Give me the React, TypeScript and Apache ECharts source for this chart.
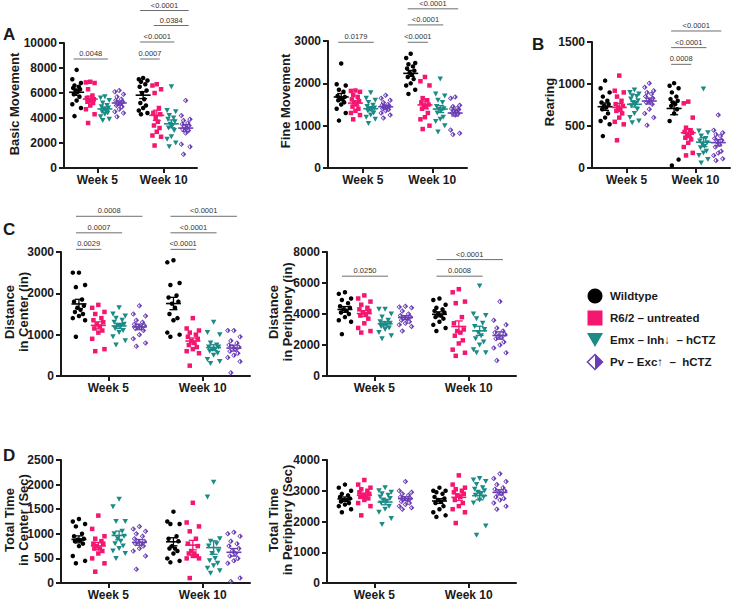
import React, { useEffect, useRef } from "react";
import * as echarts from "echarts";

// ---------- categories ----------
const weeks = ["Week 5", "Week 10"];
const groupNames = ["Wildtype", "R6/2 – untreated", "Emx – Inh↓  – hCTZ", "Pv – Exc↑  –  hCTZ"];
const groupColors = ["#000000", "#f5166f", "#1b8b86", "#6a3db4"];

// ---------- values: [Wildtype, R6/2, Emx, Pv] per week ----------
const basicWeek5 = [
  [7850, 7100, 6800, 6600, 6500, 6400, 6300, 6200, 6100, 5900, 5700, 5400, 5100, 4800, 4150],
  [6900, 6850, 6800, 6300, 5800, 5600, 5500, 5450, 5400, 5300, 5200, 5000, 4700, 4300, 3600],
  [5700, 5600, 5400, 5200, 5000, 4900, 4800, 4700, 4600, 4500, 4400, 4300, 4100, 3900, 3800],
  [6200, 6100, 5900, 5700, 5500, 5400, 5300, 5200, 5100, 5000, 4900, 4700, 4500, 4400, 4100],
];
const basicWeek10 = [
  [7200, 7100, 7000, 6900, 6700, 6500, 6200, 6000, 5500, 5200, 5000, 4800, 4600, 4400, 4300],
  [6700, 6600, 6300, 6000, 4800, 4400, 4300, 4000, 3700, 3400, 3200, 2900, 2600, 2500, 1800],
  [6500, 4600, 4500, 4200, 4000, 3900, 3700, 3500, 3400, 3200, 3000, 2500, 2300, 2000, 1700],
  [5400, 4200, 3900, 3800, 3600, 3500, 3400, 3300, 3200, 3100, 3000, 2800, 1900, 1700, 1100],
];
const fineWeek5 = [
  [2470, 1980, 1950, 1850, 1800, 1700, 1680, 1650, 1620, 1600, 1550, 1500, 1400, 1300, 1120],
  [1830, 1820, 1800, 1720, 1680, 1620, 1580, 1550, 1500, 1450, 1400, 1350, 1300, 1250, 1150],
  [1780, 1650, 1600, 1550, 1480, 1450, 1420, 1400, 1380, 1350, 1300, 1250, 1200, 1150, 1050],
  [1720, 1650, 1600, 1550, 1500, 1480, 1460, 1450, 1420, 1400, 1380, 1350, 1300, 1250, 1180],
];
const fineWeek10 = [
  [2700, 2600, 2480, 2450, 2400, 2350, 2300, 2250, 2200, 2150, 2100, 2000, 1950, 1850, 1750],
  [2150, 2050, 1950, 1650, 1600, 1550, 1500, 1480, 1450, 1400, 1300, 1200, 1150, 1000, 920],
  [2100, 1750, 1700, 1600, 1550, 1450, 1400, 1380, 1350, 1300, 1200, 1150, 1100, 1000, 850],
  [1680, 1650, 1480, 1450, 1420, 1400, 1380, 1350, 1330, 1300, 1280, 1250, 900, 820, 790],
];
const rearingWeek5 = [
  [1040, 950, 900, 850, 800, 780, 760, 740, 720, 700, 650, 600, 560, 520, 380],
  [1100, 920, 900, 850, 800, 760, 740, 720, 700, 680, 650, 600, 550, 520, 330],
  [930, 900, 880, 860, 850, 820, 800, 780, 760, 740, 700, 650, 600, 560, 540],
  [1010, 960, 920, 900, 880, 850, 830, 810, 800, 780, 760, 700, 650, 600, 510],
];
const rearingWeek10 = [
  [1010, 980, 950, 900, 850, 820, 800, 780, 760, 740, 700, 650, 560, 100, 30],
  [790, 770, 600, 480, 450, 430, 420, 400, 380, 360, 340, 300, 250, 180, 150],
  [940, 440, 420, 380, 350, 320, 300, 280, 260, 240, 200, 180, 150, 100, 60],
  [630, 450, 420, 400, 380, 350, 330, 310, 280, 250, 200, 180, 150, 110, 90],
];
const centerDistWeek5 = [
  [2500, 2500, 2200, 2150, 1850, 1800, 1700, 1650, 1600, 1550, 1500, 1450, 1400, 1350, 950],
  [1720, 1650, 1550, 1500, 1400, 1350, 1300, 1250, 1200, 1150, 1100, 1050, 900, 650, 600],
  [1650, 1500, 1450, 1400, 1350, 1300, 1250, 1220, 1200, 1150, 1100, 1050, 950, 850, 750],
  [1700, 1500, 1450, 1350, 1300, 1250, 1220, 1200, 1180, 1150, 1100, 1000, 900, 800, 720],
];
const centerDistWeek10 = [
  [2800, 2750, 2250, 2200, 1950, 1900, 1800, 1750, 1650, 1500, 1400, 1350, 1050, 1000, 950],
  [1400, 1150, 1100, 1050, 1000, 950, 900, 850, 800, 750, 700, 650, 600, 550, 250],
  [1300, 1050, 1000, 800, 750, 700, 700, 650, 650, 600, 550, 500, 400, 350, 300],
  [1100, 1100, 950, 850, 800, 750, 700, 700, 650, 600, 550, 500, 450, 350, 80],
];
const periDistWeek5 = [
  [5400, 5300, 5000, 4900, 4700, 4500, 4400, 4300, 4200, 4100, 4000, 3800, 3600, 3500, 2700],
  [5200, 5000, 4800, 4600, 4400, 4300, 4200, 4100, 4000, 3900, 3700, 3400, 3100, 2900, 2800],
  [4300, 4300, 4000, 3800, 3600, 3500, 3400, 3300, 3300, 3200, 3100, 3000, 2800, 2600, 2400],
  [4500, 4450, 4400, 4200, 4000, 3900, 3800, 3750, 3700, 3600, 3500, 3400, 3300, 3200, 2900],
];
const periDistWeek10 = [
  [5000, 4900, 4600, 4400, 4300, 4200, 4100, 4000, 3900, 3800, 3700, 3500, 3300, 3100, 2900],
  [5600, 5400, 4800, 4700, 3800, 3400, 3000, 2900, 2800, 2600, 2300, 2100, 1700, 1500, 1300],
  [5800, 4000, 3900, 3700, 3400, 3200, 3000, 2800, 2600, 2400, 2200, 2000, 1700, 1500, 1500],
  [4800, 3600, 3300, 3100, 2900, 2800, 2700, 2600, 2500, 2400, 2200, 2000, 1800, 1500, 1000],
];
const centerTimeWeek5 = [
  [1300, 1250, 1200, 1150, 1000, 950, 900, 880, 870, 850, 800, 750, 550, 450, 400],
  [1370, 1100, 950, 900, 850, 800, 800, 750, 700, 700, 650, 600, 500, 400, 230],
  [1700, 1550, 1250, 1250, 1050, 1000, 950, 900, 850, 800, 750, 700, 650, 600, 500],
  [1150, 1100, 1050, 1000, 950, 900, 850, 850, 800, 800, 750, 700, 650, 550, 280],
];
const centerTimeWeek10 = [
  [1450, 1250, 1200, 1200, 950, 900, 850, 750, 700, 700, 650, 600, 500, 450, 420],
  [1630, 1230, 1150, 1050, 900, 800, 750, 650, 600, 600, 550, 550, 500, 500, 100],
  [2050, 1750, 900, 850, 800, 750, 650, 600, 500, 450, 400, 350, 300, 250, 200],
  [1030, 1000, 950, 850, 800, 750, 700, 650, 600, 550, 500, 450, 400, 100, 30],
];
const periTimeWeek5 = [
  [3200, 3100, 3000, 2900, 2850, 2800, 2750, 2700, 2700, 2650, 2600, 2550, 2500, 2400, 2300],
  [3350, 3200, 3100, 3050, 3000, 2950, 2900, 2850, 2850, 2800, 2750, 2700, 2600, 2500, 2200],
  [3100, 3000, 2950, 2900, 2850, 2800, 2750, 2700, 2650, 2600, 2500, 2400, 2300, 2100, 1900],
  [3300, 3000, 2950, 2900, 2850, 2800, 2750, 2750, 2700, 2650, 2600, 2550, 2500, 2450, 2400],
];
const periTimeWeek10 = [
  [3100, 3000, 3000, 2950, 2900, 2800, 2750, 2700, 2650, 2600, 2500, 2400, 2300, 2200, 2150],
  [3500, 3200, 3100, 3050, 3000, 2950, 2900, 2850, 2800, 2700, 2600, 2500, 2400, 2300, 1950],
  [3400, 3350, 3300, 3200, 3100, 3050, 3000, 2950, 2900, 2850, 2800, 2700, 2600, 1850, 1550],
  [3550, 3400, 3300, 3200, 3100, 3050, 3000, 2950, 2900, 2800, 2750, 2700, 2600, 2500, 2400],
];

// ---------- significance brackets (week index, from group, to group, height, p) ----------
type Bracket = { w: number; a: number; b: number; y: number; p: string };
const basicBrackets: Bracket[] = [
  { w: 0, a: 0, b: 2, y: 8720, p: "0.0048" },
  { w: 1, a: 0, b: 1, y: 8720, p: "0.0007" },
  { w: 1, a: 0, b: 2, y: 10080, p: "<0.0001" },
  { w: 1, a: 1, b: 3, y: 11400, p: "0.0384" },
  { w: 1, a: 0, b: 3, y: 12600, p: "<0.0001" },
];
const fineBrackets: Bracket[] = [
  { w: 0, a: 0, b: 2, y: 2970, p: "0.0179" },
  { w: 1, a: 0, b: 1, y: 2970, p: "<0.0001" },
  { w: 1, a: 0, b: 2, y: 3380, p: "<0.0001" },
  { w: 1, a: 0, b: 3, y: 3760, p: "<0.0001" },
];
const rearingBrackets: Bracket[] = [
  { w: 1, a: 0, b: 1, y: 1234, p: "0.0008" },
  { w: 1, a: 0, b: 2, y: 1433, p: "<0.0001" },
  { w: 1, a: 0, b: 3, y: 1631, p: "<0.0001" },
];
const centerDistBrackets: Bracket[] = [
  { w: 0, a: 0, b: 1, y: 3064, p: "0.0029" },
  { w: 0, a: 0, b: 2, y: 3464, p: "0.0007" },
  { w: 0, a: 0, b: 3, y: 3864, p: "0.0008" },
  { w: 1, a: 0, b: 1, y: 3064, p: "<0.0001" },
  { w: 1, a: 0, b: 2, y: 3464, p: "<0.0001" },
  { w: 1, a: 0, b: 3, y: 3864, p: "<0.0001" },
];
const periDistBrackets: Bracket[] = [
  { w: 0, a: 0, b: 2, y: 6440, p: "0.0250" },
  { w: 1, a: 0, b: 2, y: 6440, p: "0.0008" },
  { w: 1, a: 0, b: 3, y: 7510, p: "<0.0001" },
];

// ---------- layout ----------
const FONT = "'Liberation Sans', Arial, Helvetica, sans-serif";
const INK = "#1a1a1a";
const weekPos = [1, 3];
const groupOffsets = [-0.62, -0.21, 0.23, 0.66];
const jitterPattern = [0, -1, 1, -0.5, 0.5, -0.8, 0.8, -0.25, 0.25, -0.65, 0.65];
const JITTER = 0.13;

type Panel = {
  left: number; top: number; width: number; height: number;
  max: number; interval: number;
  wk5: number[][]; wk10: number[][]; brackets: Bracket[];
};
const panels: Panel[] = [
  { left: 64, top: 43, width: 133, height: 125, max: 10000, interval: 2000, wk5: basicWeek5, wk10: basicWeek10, brackets: basicBrackets },
  { left: 328, top: 41, width: 139, height: 127, max: 3000, interval: 1000, wk5: fineWeek5, wk10: fineWeek10, brackets: fineBrackets },
  { left: 592, top: 42, width: 138, height: 126, max: 1500, interval: 500, wk5: rearingWeek5, wk10: rearingWeek10, brackets: rearingBrackets },
  { left: 61, top: 252, width: 189, height: 124, max: 3000, interval: 1000, wk5: centerDistWeek5, wk10: centerDistWeek10, brackets: centerDistBrackets },
  { left: 327, top: 252, width: 189, height: 124, max: 8000, interval: 2000, wk5: periDistWeek5, wk10: periDistWeek10, brackets: periDistBrackets },
  { left: 61, top: 460, width: 189, height: 124, max: 2500, interval: 500, wk5: centerTimeWeek5, wk10: centerTimeWeek10, brackets: [] },
  { left: 327, top: 460, width: 189, height: 124, max: 4000, interval: 1000, wk5: periTimeWeek5, wk10: periTimeWeek10, brackets: [] },
];

const TRI_DOWN = "path://M0,0 L10,0 L5,9 Z";
const HALF_DIAMOND = "path://M5,0 L10,5 L5,10 Z M5,0 L0,5 L5,10 L5,8 L2,5 L5,2 Z";
const groupSymbols = ["circle", "rect", TRI_DOWN, HALF_DIAMOND];
const groupSizes: any[] = [4.5, 4.5, [5.5, 5], 5.5];

function mean(a: number[]) { return a.reduce((s, v) => s + v, 0) / a.length; }
function sem(a: number[]) {
  const m = mean(a);
  const v = a.reduce((s, x) => s + (x - m) * (x - m), 0) / (a.length - 1);
  return Math.sqrt(v) / Math.sqrt(a.length);
}

function buildOption() {
  const grid: any[] = [];
  const xAxis: any[] = [];
  const yAxis: any[] = [];
  const series: any[] = [];

  panels.forEach((p, i) => {
    grid.push({ left: p.left, top: p.top, width: p.width, height: p.height });
    xAxis.push({
      type: "value", gridIndex: i, min: 0, max: 4,
      axisLine: { show: true, onZero: false, lineStyle: { color: INK, width: 2 } },
      axisTick: { show: true, customValues: weekPos, length: 5, lineStyle: { color: INK, width: 2 } },
      axisLabel: {
        customValues: weekPos, margin: 6,
        formatter: (v: number) => (Math.abs(v - weekPos[0]) < 0.01 ? weeks[0] : weeks[1]),
        fontFamily: FONT, fontWeight: "bold", fontSize: 12, color: INK,
      },
      splitLine: { show: false },
    });
    yAxis.push({
      type: "value", gridIndex: i, min: 0, max: p.max, interval: p.interval,
      axisLine: { show: true, onZero: false, lineStyle: { color: INK, width: 2 } },
      axisTick: { show: true, length: 5, lineStyle: { color: INK, width: 2 } },
      axisLabel: { margin: 7, formatter: (v: number) => String(v), fontFamily: FONT, fontWeight: "bold", fontSize: 12, color: INK },
      splitLine: { show: false },
    });

    const weeksData = [p.wk5, p.wk10];
    for (let g = 0; g < 4; g++) {
      const data: number[][] = [];
      weeksData.forEach((wk, w) => {
        wk[g].forEach((v, k) => {
          data.push([weekPos[w] + groupOffsets[g] + jitterPattern[k % jitterPattern.length] * JITTER, v]);
        });
      });
      series.push({
        type: "scatter", xAxisIndex: i, yAxisIndex: i, silent: true,
        symbol: groupSymbols[g], symbolSize: groupSizes[g],
        itemStyle: { color: groupColors[g], opacity: 1 },
        data, z: 2,
      });
    }

    const stats: number[][] = [];
    weeksData.forEach((wk, w) => {
      for (let g = 0; g < 4; g++) {
        stats.push([weekPos[w] + groupOffsets[g], mean(wk[g]), sem(wk[g]), g]);
      }
    });
    series.push({
      type: "custom", xAxisIndex: i, yAxisIndex: i, silent: true, z: 3,
      encode: { x: 0, y: 1 },
      data: stats,
      renderItem: (params: any, api: any) => {
        const x = api.value(0), m = api.value(1), s = api.value(2), g = api.value(3);
        const c = api.coord([x, m]);
        const t = api.coord([x, m + s]);
        const b = api.coord([x, m - s]);
        const col = groupColors[g];
        const st = { stroke: col, lineWidth: 1.3 };
        return {
          type: "group",
          children: [
            { type: "line", shape: { x1: c[0] - 7.5, y1: c[1], x2: c[0] + 7.5, y2: c[1] }, style: { stroke: col, lineWidth: 1.6 } },
            { type: "line", shape: { x1: c[0], y1: t[1], x2: c[0], y2: b[1] }, style: st },
            { type: "line", shape: { x1: c[0] - 4, y1: t[1], x2: c[0] + 4, y2: t[1] }, style: st },
            { type: "line", shape: { x1: c[0] - 4, y1: b[1], x2: c[0] + 4, y2: b[1] }, style: st },
          ],
        };
      },
    });

    if (p.brackets.length) {
      const bdata = p.brackets.map((br) => [
        weekPos[br.w] + groupOffsets[br.a], weekPos[br.w] + groupOffsets[br.b], br.y,
      ]);
      series.push({
        type: "custom", xAxisIndex: i, yAxisIndex: i, silent: true, z: 4, clip: false,
        encode: { x: [0, 1], y: 2 },
        data: bdata,
        renderItem: (params: any, api: any) => {
          const br = p.brackets[params.dataIndex];
          const p1 = api.coord([api.value(0), api.value(2)]);
          const p2 = api.coord([api.value(1), api.value(2)]);
          const x1 = p1[0] - 3, x2 = p2[0] + 3;
          return {
            type: "group",
            children: [
              { type: "line", shape: { x1, y1: p1[1], x2, y2: p1[1] }, style: { stroke: "#6e6e6e", lineWidth: 1 } },
              {
                type: "text",
                style: {
                  x: (x1 + x2) / 2, y: p1[1] - 1.5, text: br.p, align: "center", verticalAlign: "bottom",
                  fontFamily: FONT, fontSize: 7.5, fill: "#333",
                },
              },
            ],
          };
        },
      });
    }
  });

  const txt = (x: number, y: number, text: string, size: number, rotate = false, weight = "bold") => ({
    type: "text", x, y, rotation: rotate ? Math.PI / 2 : 0,
    style: { text, fontFamily: FONT, fontSize: size, fontWeight: weight, fill: INK, align: rotate ? "center" : "left", verticalAlign: "middle" },
  });

  const graphic: any[] = [
    txt(3, 34, "A", 17), txt(532, 44, "B", 17), txt(3, 229, "C", 17), txt(3, 455, "D", 17),
    txt(14, 104, "Basic Movement", 13, true),
    txt(285, 101, "Fine Movement", 13, true),
    txt(549, 102, "Rearing", 13, true),
    txt(9, 312, "Distance", 13, true),
    txt(23, 312, "in Center (in)", 13, true),
    txt(273, 312, "Distance", 13, true),
    txt(287, 312, "in Periphery (in)", 13, true),
    txt(9, 520, "Total Time", 13, true),
    txt(23, 520, "in Center (Sec)", 13, true),
    txt(273, 520, "Total Time", 13, true),
    txt(287, 520, "in Periphery (Sec)", 13, true),
  ];

  // legend
  const lx = 595;
  const ly = [296, 318, 340, 362];
  graphic.push({ type: "circle", shape: { cx: lx, cy: ly[0], r: 7.5 }, style: { fill: groupColors[0] } });
  graphic.push({ type: "rect", shape: { x: lx - 7.5, y: ly[1] - 7.5, width: 15, height: 15 }, style: { fill: groupColors[1] } });
  graphic.push({ type: "polygon", shape: { points: [[lx - 8, ly[2] - 7], [lx + 8, ly[2] - 7], [lx, ly[2] + 7]] }, style: { fill: groupColors[2] } });
  graphic.push({ type: "polygon", shape: { points: [[lx, ly[3] - 7.5], [lx - 7.5, ly[3]], [lx, ly[3] + 7.5], [lx + 7.5, ly[3]]] }, style: { fill: "#fff", stroke: groupColors[3], lineWidth: 1.5 } });
  graphic.push({ type: "polygon", shape: { points: [[lx, ly[3] - 7.5], [lx + 7.5, ly[3]], [lx, ly[3] + 7.5]] }, style: { fill: groupColors[3] } });
  groupNames.forEach((n, k) => graphic.push(txt(610, ly[k], n, 11.5)));

  return { animation: false, backgroundColor: "#fff", grid, xAxis, yAxis, series, graphic };
}

export default function App() {
  const ref = useRef<HTMLDivElement>(null);
  useEffect(() => {
    if (!ref.current) return;
    const chart = echarts.init(ref.current, null, { renderer: "svg" });
    chart.setOption(buildOption() as any);
    return () => chart.dispose();
  }, []);
  return (
    <div
      ref={ref}
      style={{ position: "absolute", left: 0, top: 0, width: 732, height: 601, background: "#fff" }}
    />
  );
}
